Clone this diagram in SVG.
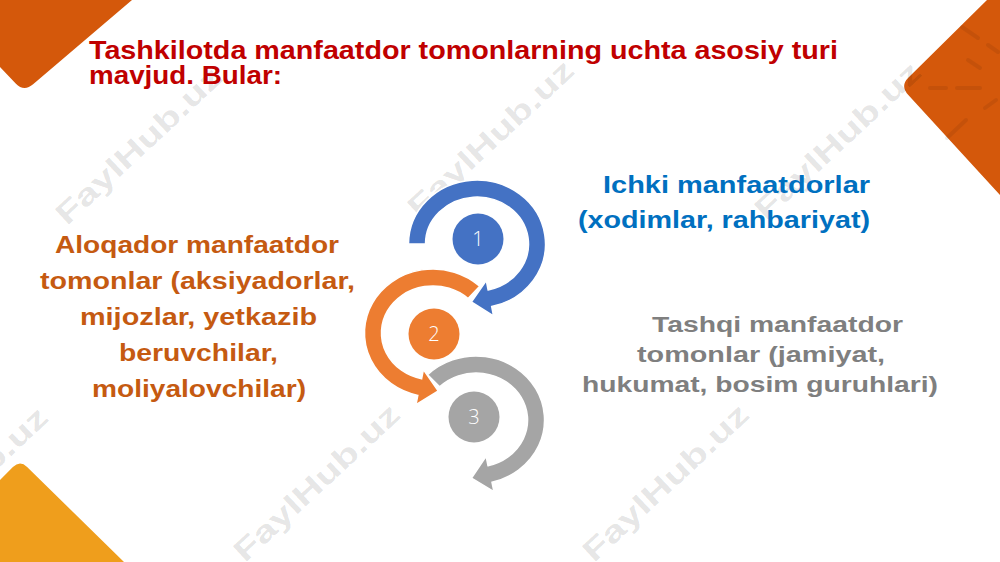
<svg xmlns="http://www.w3.org/2000/svg" width="1000" height="562" viewBox="0 0 1000 562">
<style>
.t{font-family:"Liberation Sans",Arial,sans-serif;font-weight:bold}
.title{fill:#C00000;font-size:25px}
.org{fill:#C55A11;font-size:23px}
.blu{fill:#0070C0;font-size:24px}
.gry{fill:#7F7F7F;font-size:22px}
.wm{font-family:"Liberation Sans",Arial,sans-serif;font-weight:bold;font-size:30px;fill:#000;fill-opacity:0.11;text-anchor:middle}
.num{font-family:"Open Sans","Liberation Sans",sans-serif;font-weight:300;font-size:20px;fill:#fff;text-anchor:middle}
.arr{stroke:#fff;stroke-width:1.5;stroke-linejoin:miter}
.dash{stroke:#000;stroke-opacity:0.07;stroke-width:4;stroke-linecap:round}
</style>
<rect width="1000" height="562" fill="#fff"/>
<g id="decor">
<path d="M0,0 L132,0 L33.1,84.2 Q24,92 15.7,83.4 L0,67 Z" fill="#D4580B"/>
<path d="M987,0 L1000,0 L1000,195 L908.1,94.8 Q900,86 908.5,77.6 Z" fill="#D4580B"/>
<path d="M0,562 L0,480 L12.9,467.1 Q20,460 27.1,467 L124,562 Z" fill="#EF9E1C"/>
<g class="dash">
<line x1="962" y1="27" x2="978" y2="38"/>
<line x1="988" y1="45" x2="998" y2="52"/>
<line x1="930" y1="88" x2="946" y2="88"/>
<line x1="957" y1="88" x2="980" y2="88"/>
<line x1="947" y1="138" x2="966" y2="120"/>
<line x1="985" y1="108" x2="996" y2="100"/>
<line x1="968" y1="60" x2="980" y2="68"/>
</g>
</g>
<g id="watermarks">
<text class="wm" textLength="215" lengthAdjust="spacingAndGlyphs" transform="translate(138,145) rotate(-43)" y="11">FaylHub.uz</text>
<text class="wm" textLength="215" lengthAdjust="spacingAndGlyphs" transform="translate(490,138) rotate(-43)" y="11">FaylHub.uz</text>
<text class="wm" textLength="215" lengthAdjust="spacingAndGlyphs" transform="translate(837,140) rotate(-43)" y="11">FaylHub.uz</text>
<text class="wm" textLength="215" lengthAdjust="spacingAndGlyphs" transform="translate(-36,485) rotate(-43)" y="11">FaylHub.uz</text>
<text class="wm" textLength="215" lengthAdjust="spacingAndGlyphs" transform="translate(316,482) rotate(-43)" y="11">FaylHub.uz</text>
<text class="wm" textLength="215" lengthAdjust="spacingAndGlyphs" transform="translate(665,482) rotate(-43)" y="11">FaylHub.uz</text>
</g>
<g id="title" class="t title">
<text x="89" y="59" textLength="749" lengthAdjust="spacingAndGlyphs">Tashkilotda manfaatdor tomonlarning uchta asosiy turi</text>
<text x="89" y="84" textLength="193" lengthAdjust="spacingAndGlyphs">mavjud. Bular:</text>
</g>
<g id="step3">
<path class="arr" fill="#A5A5A5" d="M427.6,374.7 A68.5,64 0 1 1 492.0,482.2 L493.9,491.6 L471.5,478.1 L486.1,456.4 L488.0,465.7 A51.5,47 0 1 0 439.6,386.8 Z"/>
<circle cx="474" cy="417" r="25.5" fill="#A5A5A5"/>
<text class="num" x="474" y="424">3</text>
</g>
<g id="step2">
<path class="arr" fill="#ED7D31" d="M479.7,286.2 A68.5,64 0 1 0 417.8,395.4 L416.0,404.7 L438.3,391.0 L423.4,369.5 L421.6,378.8 A51.5,47 0 1 1 468.1,298.6 Z"/>
<circle cx="434" cy="334" r="25.5" fill="#ED7D31"/>
<text class="num" x="434" y="341">2</text>
</g>
<g id="step1">
<path class="arr" fill="#4472C4" d="M408.5,244 A68.5,64 0 1 1 491.7,306.5 L493.5,315.8 L471.3,302 L486.3,280.6 L488.1,289.9 A51.5,47 0 1 0 425.5,244 Z"/>
<circle cx="478" cy="239" r="25.5" fill="#4472C4"/>
<text class="num" x="478" y="246">1</text>
</g>
<g id="aloqador" class="t org">
<text x="55" y="253" textLength="284" lengthAdjust="spacingAndGlyphs">Aloqador manfaatdor</text>
<text x="40" y="289" textLength="315" lengthAdjust="spacingAndGlyphs">tomonlar (aksiyadorlar,</text>
<text x="80" y="325" textLength="237" lengthAdjust="spacingAndGlyphs">mijozlar, yetkazib</text>
<text x="119" y="361" textLength="159" lengthAdjust="spacingAndGlyphs">beruvchilar,</text>
<text x="92" y="397" textLength="214" lengthAdjust="spacingAndGlyphs">moliyalovchilar)</text>
</g>
<g id="ichki" class="t blu">
<text x="603" y="193" textLength="267" lengthAdjust="spacingAndGlyphs">Ichki manfaatdorlar</text>
<text x="578" y="228" textLength="292" lengthAdjust="spacingAndGlyphs">(xodimlar, rahbariyat)</text>
</g>
<g id="tashqi" class="t gry">
<text x="652" y="332" textLength="251" lengthAdjust="spacingAndGlyphs">Tashqi manfaatdor</text>
<text x="637" y="362" textLength="248" lengthAdjust="spacingAndGlyphs">tomonlar (jamiyat,</text>
<text x="582" y="392" textLength="356" lengthAdjust="spacingAndGlyphs">hukumat, bosim guruhlari)</text>
</g>
</svg>
